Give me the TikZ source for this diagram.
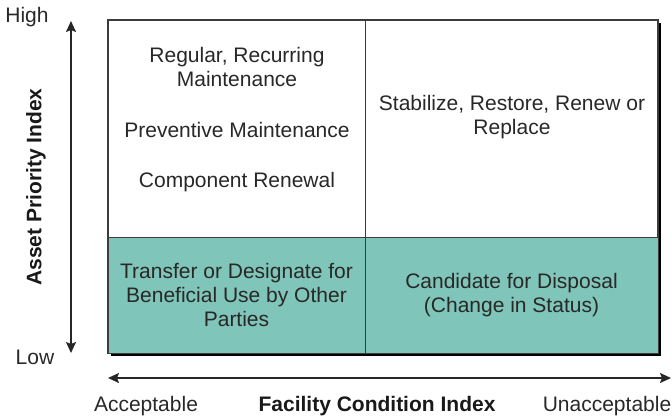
\documentclass[tikz,border=0pt]{standalone}
\usepackage{fontspec}
\setmainfont{Liberation Sans}
\usetikzlibrary{arrows.meta, shadows}
\definecolor{TealColor}{RGB}{128, 197, 185}
\definecolor{TextColor}{RGB}{40, 40, 40}
\definecolor{FrameColor}{RGB}{60, 60, 60}
\newcommand{\cellfont}{\fontsize{21}{24}\selectfont}

\begin{document}
\begin{tikzpicture}[
    x=1pt, y=-1pt,
    cell/.style={
        draw=FrameColor,
        line width=1pt,
        inner sep=0pt,
        align=center,
        font=\cellfont,
        text=TextColor
    },
    lowcell/.style={cell, fill=TealColor},
    celltext/.style={align=center, font=\cellfont, text=TextColor, inner sep=0pt},
    axislabel/.style={font=\cellfont, text=TextColor, inner sep=0pt},
    axistitle/.style={font=\cellfont\bfseries, text=black!90, inner sep=0pt},
    doublearrow/.style={{Stealth[length=11pt, width=10pt, inset=2pt]}-{Stealth[length=11pt, width=10pt, inset=2pt]}, line width=1.6pt, black!85}
]
\useasboundingbox (0, 0) rectangle (672, 417);

% Frame with shadow
\node[draw=FrameColor, line width=1.2pt, fill=white, minimum width=550pt, minimum height=333pt,
    drop shadow={shadow xshift=3pt, shadow yshift=-3pt, fill=black, opacity=1}] (frame) at (383, 186.5) {};

% Quadrants
\node[cell, minimum width=257pt, minimum height=217pt] (high_good) at (236.5, 128.5) {};
\node[cell, minimum width=293pt, minimum height=217pt] (high_poor) at (511.5, 128.5) {};
\node[lowcell, minimum width=257pt, minimum height=116pt] (low_good) at (236.5, 295) {Transfer or Designate for\\Beneficial Use by Other\\Parties};
\node[lowcell, minimum width=293pt, minimum height=116pt] (low_poor) at (511.5, 295) {Candidate for Disposal\\(Change in Status)};

% Texts in upper quadrants
\node[celltext] (recurring) at (237, 67) {Regular, Recurring\\Maintenance};
\node[celltext] (preventive) at (237, 130) {Preventive Maintenance};
\node[celltext] (renewal) at (237, 182) {Component Renewal};
\node[celltext] (stabilize) at (512, 117) {Stabilize, Restore, Renew or\\Replace};

% Vertical axis
\coordinate (y_top) at (71, 21);
\coordinate (y_bottom) at (71, 353);
\draw[doublearrow] (y_top) -- (y_bottom);
\node[axislabel] (high) at (27, 17) {High};
\node[axislabel] (low) at (35, 357) {Low};
\node[axistitle, rotate=90] (priority) at (36, 187) {Asset Priority Index};

% Horizontal axis
\coordinate (x_left) at (108, 378);
\coordinate (x_right) at (671, 378);
\draw[doublearrow] (x_left) -- (x_right);
\node[axislabel] (acceptable) at (146, 406) {Acceptable};
\node[axistitle] (condition) at (377, 406) {Facility Condition Index};
\node[axislabel] (unacceptable) at (607, 406) {Unacceptable};

\end{tikzpicture}
\end{document}
